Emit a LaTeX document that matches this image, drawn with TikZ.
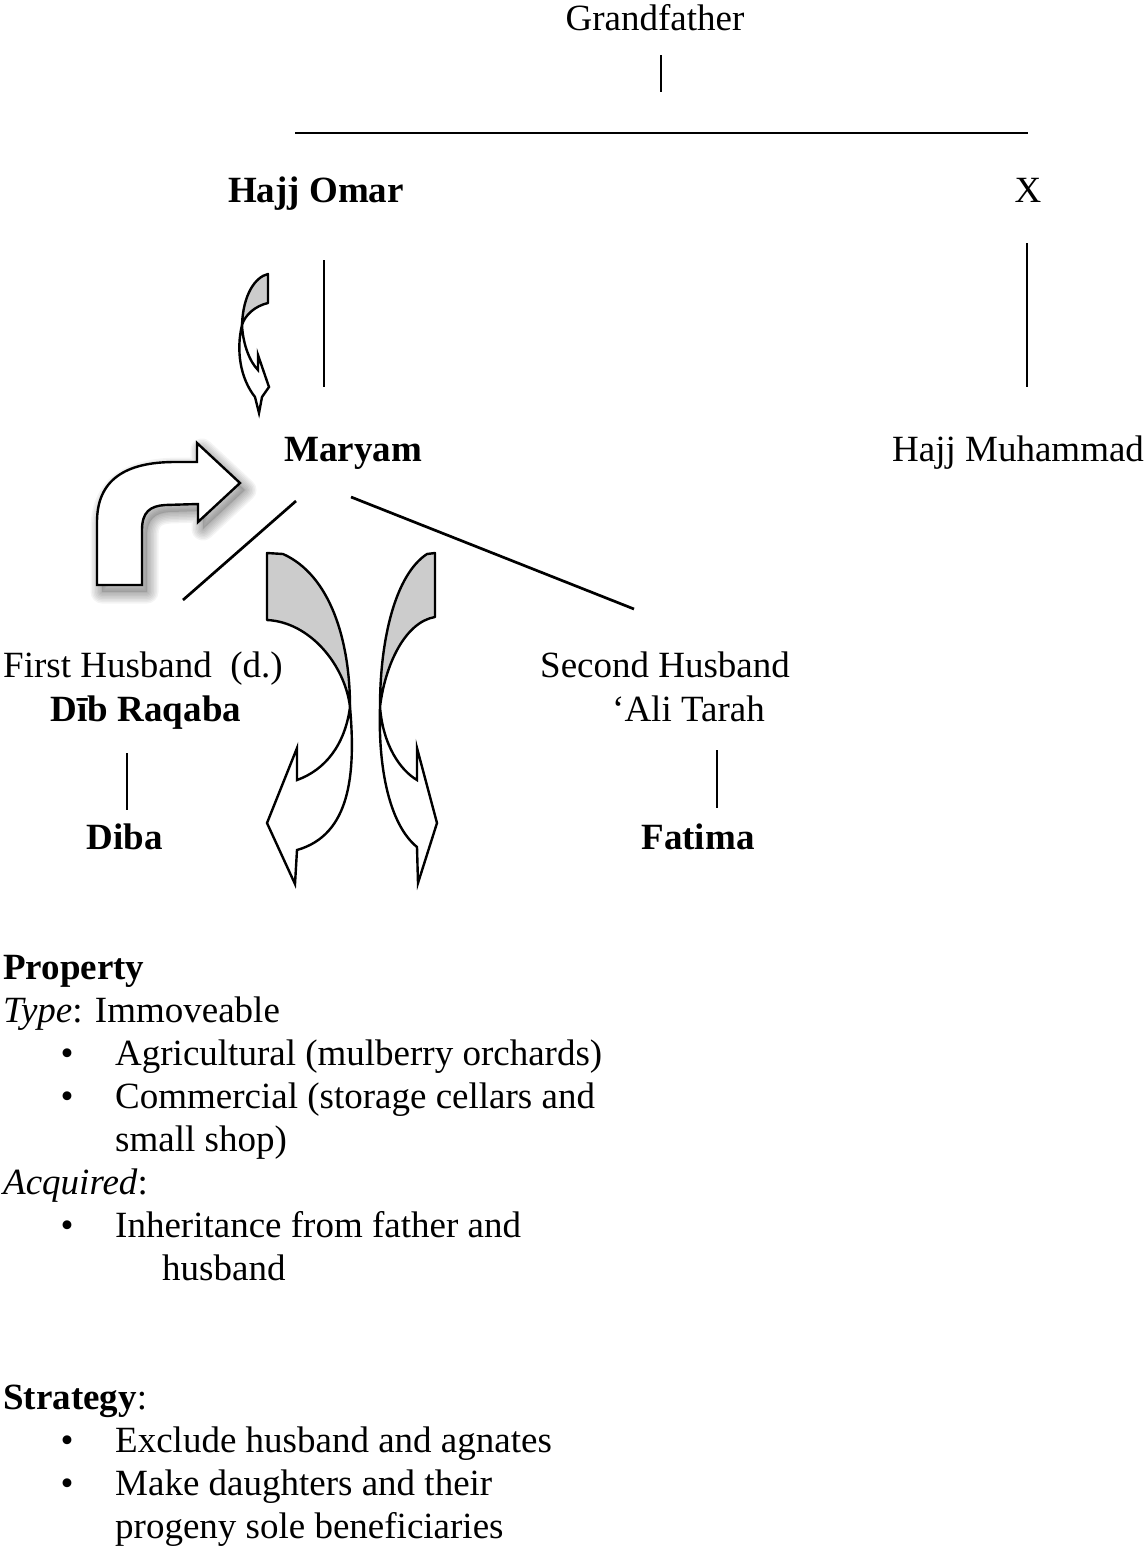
\documentclass[tikz,border=0pt]{standalone}
\usepackage{fontspec}
\setmainfont{Liberation Serif}
\newcommand{\bentarrowpath}[1]{\path[#1] (97,585) -- (97,522) .. controls (97,480) and (125,462) .. (175,462) -- (197,462) -- (197,443) -- (240,483) -- (198,522) -- (198,504) -- (165,505) .. controls (150,506) and (142,512) .. (142,530) -- (142,585) -- cycle;}
\begin{document}
\begin{tikzpicture}[x=1pt,y=-1pt,
  txt/.style={anchor=base, inner sep=0pt, font=\fontsize{37}{43}\selectfont},
  txtl/.style={txt, anchor=base west},
  bld/.style={txt, font=\fontsize{37}{43}\selectfont\bfseries},
  bldl/.style={bld, anchor=base west},
  treeline/.style={line width=2.7pt},
  grayface/.style={fill=black!20, draw=black, line width=2.4pt, line join=round},
  whiteface/.style={fill=white, draw=black, line width=2.4pt, line join=miter},
]
\useasboundingbox (0,0) rectangle (1147,1548);

% ---- names ----
\node[txt] (gf) at (655,30) {Grandfather};
\node[bld] (omar) at (316,202) {Hajj Omar};
\node[txt] (x) at (1028,202) {X};
\node[bld] (maryam) at (353,461) {Maryam};
\node[txtl] (muh) at (892,461) {Hajj Muhammad};
\node[txtl] (h1) at (3,677) {First Husband\ \ (d.)};
\node[bld] (dib) at (146,721) {Dīb Raqaba};
\node[txtl] (h2) at (540,677) {Second Husband};
\node[txtl] (ali) at (612,721) {‘Ali Tarah};
\node[bld] (diba) at (125,849) {Diba};
\node[bld] (fatima) at (698,849) {Fatima};

% ---- tree lines ----
\coordinate (gfA) at (661,55);   \coordinate (gfB) at (661,92);
\coordinate (barL) at (295,133); \coordinate (barR) at (1028,133);
\coordinate (omA) at (324,260);  \coordinate (omB) at (324,387);
\coordinate (xA) at (1027,243);  \coordinate (xB) at (1027,387);
\coordinate (maL) at (296,501);  \coordinate (maLe) at (183,600);
\coordinate (maR) at (351,497);  \coordinate (maRe) at (634,609);
\coordinate (dbA) at (127,753);  \coordinate (dbB) at (127,810);
\coordinate (alA) at (717,750);  \coordinate (alB) at (717,808);
\draw[treeline] (gfA) -- (gfB);
\draw[treeline] (barL) -- (barR);
\draw[treeline] (omA) -- (omB);
\draw[treeline] (xA) -- (xB);
\draw[treeline] (maL) -- (maLe);
\draw[treeline] (maR) -- (maRe);
\draw[treeline] (dbA) -- (dbB);
\draw[treeline] (alA) -- (alB);

% ---- small curved arrow ----
\path[grayface] (268,274) -- (268,303) .. controls (255,306) and (245,315) .. (242,325)
  .. controls (243,295) and (255,277) .. (268,274) -- cycle;
\path[whiteface] (242,325) .. controls (236,350) and (240,378) .. (255,397) -- (259,413)
  -- (262,397) -- (269,387) -- (258,355) -- (258,370)
  .. controls (250,362) and (243,345) .. (242,325) -- cycle;

% ---- bent arrow with soft shadow ----
\bentarrowpath{fill=black, opacity=0.12, shift={(5,7)}}
\foreach \w in {2,5,8,11,14,17,20,23}{
  \bentarrowpath{draw=black, opacity=0.045, line width=\w pt, line join=round, shift={(5,7)}}
}
\bentarrowpath{whiteface}

% ---- left down arrow ----
\path[grayface] (267,553) -- (283,554) .. controls (330,575) and (350,640) .. (350,707)
  .. controls (345,665) and (310,622) .. (267,620) -- cycle;
\path[whiteface] (350,707) .. controls (356,775) and (350,835) .. (297,850) -- (295,884)
  -- (267,823) -- (297,748) -- (297,780) .. controls (325,770) and (345,745) .. (350,707) -- cycle;

% ---- right down arrow ----
\path[grayface] (435,553) -- (427,554) .. controls (395,575) and (380,640) .. (380,707)
  .. controls (385,665) and (405,622) .. (435,617) -- cycle;
\path[whiteface] (380,707) .. controls (378,770) and (390,825) .. (417,847) -- (418,883)
  -- (437,823) -- (417,748) -- (417,780) .. controls (400,770) and (383,745) .. (380,707) -- cycle;

% ---- property text ----
\node[bldl] (prop) at (3,979) {Property};
\node[txtl] (type) at (3,1022) {\textit{Type}: Immoveable};
\node[txt] (b1) at (67,1065) {•};
\node[txtl] (t1) at (115,1065) {Agricultural (mulberry orchards)};
\node[txt] (b2) at (67,1108) {•};
\node[txtl] (t2) at (115,1108) {Commercial (storage cellars and};
\node[txtl] (t2b) at (115,1151) {small shop)};
\node[txtl] (acq) at (3,1194) {\textit{Acquired}:};
\node[txt] (b3) at (67,1237) {•};
\node[txtl] (t3) at (115,1237) {Inheritance from father and};
\node[txtl] (t3b) at (162,1280) {husband};
\node[txtl] (strat) at (3,1409) {\textbf{Strategy}:};
\node[txt] (b4) at (67,1452) {•};
\node[txtl] (t4) at (115,1452) {Exclude husband and agnates};
\node[txt] (b5) at (67,1495) {•};
\node[txtl] (t5) at (115,1495) {Make daughters and their};
\node[txtl] (t5b) at (115,1538) {progeny sole beneficiaries};
\end{tikzpicture}
\end{document}
